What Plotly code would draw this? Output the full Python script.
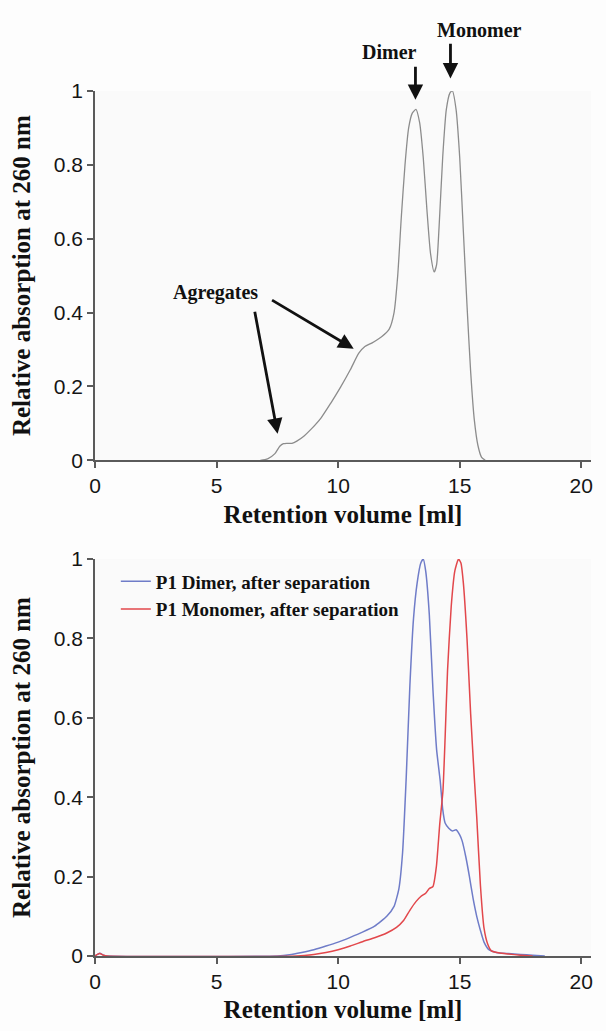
import plotly.graph_objects as go

# ---- Top chromatogram (before separation) ----
top_x = [6.8, 7.1, 7.4, 7.6, 7.75, 7.9, 8.1, 8.3, 8.6, 8.9, 9.3, 9.7, 10.1, 10.5, 10.85,
         11.1, 11.4, 11.8, 12.1, 12.3, 12.45, 12.6, 12.75, 12.9, 13.05, 13.2, 13.35, 13.5,
         13.65, 13.8, 13.95, 14.05, 14.15, 14.3, 14.45, 14.6, 14.7, 14.85, 15.0, 15.15,
         15.3, 15.45, 15.6, 15.75, 15.9, 16.05]
top_y = [0.0, 0.004, 0.018, 0.038, 0.045, 0.046, 0.046, 0.052, 0.066, 0.085, 0.115, 0.155,
         0.198, 0.245, 0.29, 0.308, 0.318, 0.335, 0.355, 0.40, 0.50, 0.66, 0.80, 0.90, 0.94,
         0.95, 0.915, 0.82, 0.68, 0.56, 0.51, 0.53, 0.63, 0.82, 0.95, 0.995, 1.0, 0.95, 0.82,
         0.62, 0.42, 0.24, 0.11, 0.04, 0.008, 0.0]

# ---- Bottom chromatograms (after separation) ----
dimer_x = [0.0, 0.1, 0.2, 0.35, 0.5, 7.5, 8.0, 8.5, 9.0, 9.5, 10.0, 10.5, 11.0, 11.5, 12.0,
           12.3, 12.5, 12.65, 12.8, 12.95, 13.1, 13.25, 13.4, 13.5, 13.6, 13.75, 13.9, 14.05,
           14.2, 14.3, 14.4, 14.55, 14.7, 14.85, 15.0, 15.1, 15.25, 15.4, 15.55, 15.7, 15.85,
           16.0, 16.2, 16.5, 17.0, 17.5, 18.0, 18.5]
dimer_y = [0.0, 0.004, 0.007, 0.002, 0.0, 0.0, 0.003, 0.009, 0.016, 0.025, 0.035, 0.047,
           0.06, 0.075, 0.1, 0.125, 0.17, 0.26, 0.45, 0.68, 0.85, 0.94, 0.99, 1.0, 0.97,
           0.86, 0.67, 0.52, 0.44, 0.37, 0.335, 0.322, 0.315, 0.318, 0.305, 0.29, 0.25, 0.2,
           0.145, 0.1, 0.065, 0.035, 0.016, 0.009, 0.006, 0.004, 0.002, 0.0]

monomer_x = [0.0, 0.1, 0.2, 0.35, 0.5, 8.3, 9.0, 9.5, 10.0, 10.5, 11.0, 11.5, 12.0, 12.4,
             12.7, 12.95, 13.2, 13.4, 13.6, 13.75, 13.9, 14.04, 14.18, 14.31, 14.4, 14.5,
             14.65, 14.8, 14.95, 15.05, 15.15, 15.3, 15.45, 15.6, 15.7, 15.85, 16.0, 16.15,
             16.3, 16.6, 17.0, 17.5, 18.0]
monomer_y = [0.0, 0.004, 0.006, 0.002, 0.0, 0.0, 0.004, 0.009, 0.016, 0.025, 0.036, 0.046,
             0.058, 0.072, 0.09, 0.115, 0.137, 0.15, 0.158, 0.17, 0.175, 0.225, 0.333, 0.415,
             0.55, 0.72, 0.88, 0.97, 1.0, 0.99, 0.94, 0.8, 0.61, 0.45, 0.35, 0.18, 0.07, 0.03,
             0.013, 0.008, 0.005, 0.002, 0.0]

x_ticks = [0, 5, 10, 15, 20]
y_ticks = [0, 0.2, 0.4, 0.6, 0.8, 1]
y_ticklabels = ["0", "0.2", "0.4", "0.6", "0.8", "1"]

x_title = "Retention volume [ml]"
y_title = "Relative absorption at 260 nm"
series_names = ["P1 Dimer, after separation", "P1 Monomer, after separation"]

SERIF = "Liberation Serif, Times New Roman, serif"
SANS = "Liberation Sans, Arial, sans-serif"

fig = go.Figure()
fig.add_trace(go.Scatter(x=top_x, y=top_y, mode="lines", xaxis="x", yaxis="y",
                         line=dict(color="#8c8c8c", width=1.3, shape="spline", smoothing=0.6),
                         showlegend=False, hoverinfo="skip"))
fig.add_trace(go.Scatter(x=dimer_x, y=dimer_y, mode="lines", xaxis="x2", yaxis="y2",
                         name="<b>" + series_names[0] + "</b>",
                         line=dict(color="#6f7cc8", width=1.5, shape="spline", smoothing=0.5)))
fig.add_trace(go.Scatter(x=monomer_x, y=monomer_y, mode="lines", xaxis="x2", yaxis="y2",
                         name="<b>" + series_names[1] + "</b>",
                         line=dict(color="#e2474b", width=1.5, shape="spline", smoothing=0.5)))

axis_common = dict(showgrid=False, zeroline=False, showline=True, linecolor="#5a5a5a",
                   linewidth=1.5, ticks="outside", tickcolor="#5a5a5a", ticklen=6,
                   tickwidth=1.5, tickfont=dict(family=SANS, size=21, color="#151515"))

xa = dict(axis_common, range=[0, 20.4], tickvals=x_ticks,
          title=dict(text="<b>" + x_title + "</b>",
                     font=dict(family=SERIF, size=25, color="#111"), standoff=9))
ya = dict(axis_common, range=[0, 1.0], tickvals=y_ticks, ticktext=y_ticklabels,
          title=dict(text="<b>" + y_title + "</b>",
                     font=dict(family=SERIF, size=25, color="#111"), standoff=16))

fig.update_layout(
    width=606, height=1031,
    margin=dict(l=95, r=15, t=91, b=64),
    paper_bgcolor="#fdfdfd", plot_bgcolor="#fafafa",
    xaxis=dict(xa, domain=[0, 1], anchor="y"),
    yaxis=dict(ya, domain=[0.5731, 1.0], anchor="x"),
    xaxis2=dict(xa, domain=[0, 1], anchor="y2"),
    yaxis2=dict(ya, domain=[0.0, 0.4589], anchor="x2"),
    showlegend=True,
    legend=dict(x=0.042, y=0.455, xanchor="left", yanchor="top",
                bgcolor="rgba(0,0,0,0)", font=dict(family=SERIF, size=19, color="#111"),
                itemwidth=30, tracegroupgap=0),
)

ann_font = dict(family=SERIF, size=20, color="#111")
# top y range is [0, 1], so a "y domain" fraction equals the data value
arrow = dict(showarrow=True, arrowhead=2, arrowsize=1.1, arrowwidth=2.8, arrowcolor="#111",
             axref="x", ayref="y domain", xref="x", yref="y domain", text="", standoff=0)
label = dict(showarrow=False, font=ann_font, xref="x", yref="y domain",
             xanchor="center", yanchor="middle")

fig.add_annotation(label, x=12.1, y=1.105, text="<b>Dimer</b>")
fig.add_annotation(label, x=15.83, y=1.165, text="<b>Monomer</b>")
fig.add_annotation(label, x=4.96, y=0.455, text="<b>Agregates</b>")
fig.add_annotation(arrow, x=13.18, y=0.976, ax=13.18, ay=1.07)
fig.add_annotation(arrow, x=14.62, y=1.034, ax=14.62, ay=1.132)
fig.add_annotation(arrow, x=7.51, y=0.072, ax=6.56, ay=0.406)
fig.add_annotation(arrow, x=10.64, y=0.302, ax=7.22, ay=0.436)

fig.write_html("out.html")
